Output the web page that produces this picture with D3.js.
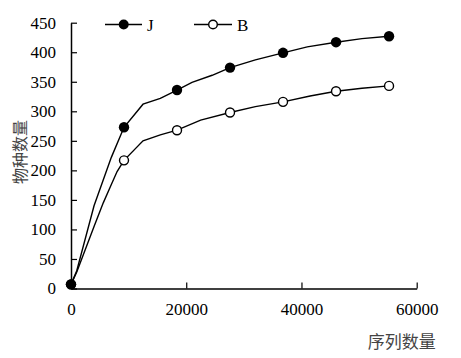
<!DOCTYPE html>
<html><head><meta charset="utf-8">
<script src="https://cdn.jsdelivr.net/npm/d3@7/dist/d3.min.js"></script>
<style>
html,body{margin:0;padding:0;background:#fff;}
svg{display:block;}
</style></head>
<body>
<svg id="chart" width="461" height="358"></svg>
<script>
// Marker (sample) positions and values
const markerX = [0, 9200, 18400, 27600, 36800, 46000, 55200];
const valuesJ = [7, 273, 336, 374, 399, 417, 427];
const valuesB = [7, 217, 268, 298, 316, 334, 343];
// Full curve points (rarefaction sampling)
const curveJX = [0, 1000, 4000, 7000, 9200, 12500, 15500, 18400, 21000, 24500, 27600, 32000, 36800, 41000, 46000, 50500, 55200];
const curveJY = [7, 30, 140, 222, 273, 312, 322, 336, 349, 361, 374, 387, 399, 409, 417, 423, 427];
const curveBX = [0, 1000, 4000, 5600, 7000, 8000, 9200, 12500, 15500, 18400, 22500, 27600, 32000, 36800, 41500, 46000, 50500, 55200];
const curveBY = [7, 28, 105, 145, 176, 198, 217, 250, 260, 268, 285, 298, 308, 316, 326, 334, 339, 343];
const xTicks = [0, 20000, 40000, 60000];
const yTicks = [0, 50, 100, 150, 200, 250, 300, 350, 400, 450];
const seriesNames = ["J", "B"];
const xTitle = "序列数量";
const yTitle = "物种数量";

const svg = d3.select("#chart");
const x = d3.scaleLinear().domain([0, 60000]).range([71, 416.7]);
const y = d3.scaleLinear().domain([0, 450]).range([288.5, 22.7]);
const serif = "'Liberation Serif','Times New Roman',serif";

// Axes
const xAxis = svg.append("g").attr("transform", `translate(0,${y(0)})`)
  .call(d3.axisBottom(x).tickValues(xTicks).tickSizeInner(-6).tickSizeOuter(0).tickPadding(14).tickFormat(d3.format("d")));
const yAxis = svg.append("g").attr("transform", `translate(${x(0)},0)`)
  .call(d3.axisLeft(y).tickValues(yTicks).tickSizeInner(-6).tickSizeOuter(0).tickPadding(15).tickFormat(d3.format("d")));
[xAxis, yAxis].forEach(g => {
  g.selectAll(".domain").attr("stroke", "#000").attr("stroke-width", 1.5);
  g.selectAll(".tick line").attr("stroke", "#000").attr("stroke-width", 1.2);
  g.selectAll("text").attr("font-family", serif).attr("font-size", 17).attr("fill", "#000");
});
xAxis.selectAll("text").attr("dy", "0.71em");

// Lines
const line = d3.line().x(d => x(d[0])).y(d => y(d[1]));
const jPts = curveJX.map((v, i) => [v, curveJY[i]]);
const bPts = curveBX.map((v, i) => [v, curveBY[i]]);
svg.append("path").datum(bPts).attr("d", line).attr("fill", "none").attr("stroke", "#000").attr("stroke-width", 1.4);
svg.append("path").datum(jPts).attr("d", line).attr("fill", "none").attr("stroke", "#000").attr("stroke-width", 1.4);

// Markers
svg.append("g").selectAll("circle").data(markerX.map((v, i) => [v, valuesB[i]])).join("circle")
  .attr("cx", d => x(d[0])).attr("cy", d => y(d[1])).attr("r", 4.5)
  .attr("fill", "#fff").attr("stroke", "#000").attr("stroke-width", 1.4);
svg.append("g").selectAll("circle").data(markerX.map((v, i) => [v, valuesJ[i]])).join("circle")
  .attr("cx", d => x(d[0])).attr("cy", d => y(d[1])).attr("r", 5.2).attr("fill", "#000");

// Legend
const legend = [{name: seriesNames[0], x0: 105, x1: 142, cx: 123.7, tx: 147, filled: true},
                {name: seriesNames[1], x0: 194, x1: 232, cx: 213, tx: 237, filled: false}];
const ly = 24.5;
legend.forEach(l => {
  svg.append("line").attr("x1", l.x0).attr("x2", l.x1).attr("y1", ly).attr("y2", ly).attr("stroke", "#000").attr("stroke-width", 1.4);
  svg.append("circle").attr("cx", l.cx).attr("cy", ly).attr("r", l.filled ? 5 : 4.3)
    .attr("fill", l.filled ? "#000" : "#fff").attr("stroke", "#000").attr("stroke-width", l.filled ? 0 : 1.4);
  svg.append("text").attr("x", l.tx).attr("y", ly + 6).attr("font-family", serif).attr("font-size", 17).text(l.name);
});

// Titles
const cjk = "'Noto Sans CJK SC','Noto Sans',sans-serif";
svg.append("text").attr("x", 401.7).attr("y", 348).attr("text-anchor", "middle")
  .attr("font-family", cjk).attr("font-size", 17).attr("fill", "#444").text(xTitle);
svg.append("text").attr("transform", "translate(26,152) rotate(-90)").attr("text-anchor", "middle")
  .attr("font-family", cjk).attr("font-size", 16).attr("fill", "#444").text(yTitle);
</script>
</body></html>
